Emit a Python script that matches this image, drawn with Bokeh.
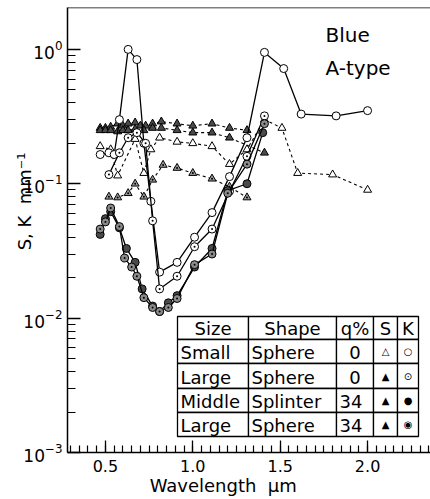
import numpy as np
from bokeh.plotting import figure
from bokeh.models import (Range1d, Label, BoxAnnotation, Span, FixedTicker,
                          CustomJSTickFormatter, LogTickFormatter)
from bokeh.embed import file_html
from bokeh.resources import INLINE

# ---------------- data ----------------
# K (absorption) series, circles, solid lines
k_small_x = [0.47, 0.52, 0.55, 0.58, 0.63, 0.68, 0.72, 0.76, 0.81, 0.91, 1.01, 1.11, 1.21, 1.31, 1.41, 1.52, 1.62, 1.82, 2.00]
k_small_y = [0.165, 0.17, 0.165, 0.30, 1.00, 0.84, 0.20, 0.074, 0.022, 0.026, 0.040, 0.061, 0.113, 0.22, 0.95, 0.72, 0.33, 0.32, 0.35]

k_large0_x = [0.52, 0.58, 0.63, 0.68, 0.73, 0.77, 0.81, 0.91, 1.01, 1.11, 1.21, 1.31, 1.41]
k_large0_y = [0.117, 0.17, 0.22, 0.24, 0.20, 0.053, 0.0165, 0.0205, 0.034, 0.046, 0.088, 0.16, 0.32]

k_splinter_x = [0.47, 0.50, 0.53, 0.58, 0.62, 0.67, 0.71, 0.77, 0.81, 0.86, 0.91, 1.01, 1.11, 1.20, 1.31, 1.40]
k_splinter_y = [0.042, 0.055, 0.062, 0.047, 0.033, 0.026, 0.0165, 0.0123, 0.0112, 0.013, 0.0147, 0.024, 0.033, 0.089, 0.10, 0.24]

k_large34_x = [0.47, 0.50, 0.53, 0.58, 0.61, 0.65, 0.68, 0.72, 0.77, 0.81, 0.86, 0.91, 1.01, 1.11, 1.20, 1.31, 1.41]
k_large34_y = [0.046, 0.052, 0.066, 0.048, 0.028, 0.024, 0.0205, 0.0142, 0.012, 0.0112, 0.012, 0.014, 0.025, 0.030, 0.085, 0.14, 0.28]

# S (scattering) series, triangles, dashed lines
s_small_x = [0.47, 0.53, 0.57, 0.67, 0.72, 0.76, 0.81, 0.91, 1.00, 1.11, 1.21, 1.31, 1.41, 1.51, 1.60, 1.80, 2.00]
s_small_y = [0.19, 0.18, 0.115, 0.215, 0.12, 0.18, 0.22, 0.205, 0.20, 0.19, 0.14, 0.18, 0.30, 0.26, 0.12, 0.117, 0.090]

s_large0_x = [0.47, 0.50, 0.53, 0.57, 0.60, 0.63, 0.67, 0.70, 0.73, 0.77, 0.82, 0.91, 1.00, 1.11, 1.21, 1.31]
s_large0_y = [0.26, 0.26, 0.265, 0.28, 0.27, 0.28, 0.285, 0.27, 0.27, 0.28, 0.29, 0.28, 0.27, 0.28, 0.26, 0.25]

s_splinter_x = [0.47, 0.50, 0.53, 0.57, 0.60, 0.63, 0.67, 0.72, 0.77, 0.82, 0.91, 1.00, 1.11, 1.21, 1.41]
s_splinter_y = [0.25, 0.25, 0.25, 0.245, 0.25, 0.25, 0.255, 0.25, 0.26, 0.26, 0.25, 0.24, 0.24, 0.22, 0.17]

s_large34_x = [0.52, 0.57, 0.63, 0.67, 0.72, 0.77, 0.83, 0.91, 1.00, 1.11, 1.21, 1.31]
s_large34_y = [0.080, 0.079, 0.085, 0.10, 0.080, 0.107, 0.138, 0.131, 0.12, 0.109, 0.095, 0.079]

x_major_ticks = [0.5, 1.0, 1.5, 2.0]
y_major_ticks = [1e-3, 1e-2, 1e-1, 1.0]

table_header = ["Size", "Shape", "q%", "S", "K"]
table_size = ["Small", "Large", "Middle", "Large"]
table_shape = ["Sphere", "Sphere", "Splinter", "Sphere"]
table_q = ["0", "0", "34", "34"]
table_s_sym = ["\u25b3", "\u25b2", "\u25b2", "\u25b2"]
table_k_sym = ["\u25cb", "\u2299", "\u25cf", "\u25c9"]

FONT = "DejaVu Sans"
NB = "\u00a0"
X0, X1 = 0.283, 2.36
Y0, Y1 = 1e-3, 2.05

p = figure(width=430, height=499, y_axis_type="log",
           x_range=Range1d(X0, X1), y_range=Range1d(Y0, Y1),
           output_backend="svg", toolbar_location=None,
           min_border_left=67, min_border_right=0, min_border_top=7, min_border_bottom=47)
p.outline_line_color = None
p.grid.visible = False
p.background_fill_color = "white"
p.border_fill_color = "white"

# x axis
minor_x = [round(v, 2) for v in np.arange(0.30, 2.351, 0.05)]
p.xaxis.ticker = FixedTicker(ticks=x_major_ticks, minor_ticks=minor_x)
p.xaxis.formatter = CustomJSTickFormatter(code="return tick.toFixed(1)")
p.xaxis.major_tick_in = 12
p.xaxis.major_tick_out = 0
p.xaxis.minor_tick_in = 7
p.xaxis.minor_tick_out = 0
p.xaxis.axis_line_width = 1.5
p.xaxis.major_tick_line_width = 1.3
p.xaxis.minor_tick_line_width = 1.2
p.xaxis.major_label_text_font = FONT
p.xaxis.major_label_text_font_size = "16px"
p.xaxis.major_label_text_color = "black"
p.xaxis.major_label_standoff = 7
p.xaxis.axis_label = "Wavelength" + NB * 2 + "\u03bcm" + NB * 9
p.xaxis.axis_label_text_font = FONT
p.xaxis.axis_label_text_font_size = "18px"
p.xaxis.axis_label_text_font_style = "normal"
p.xaxis.axis_label_text_color = "black"
p.xaxis.axis_label_standoff = 0

# y axis
minor_y = [k * 10.0 ** e for e in (-3, -2, -1) for k in range(2, 10)]
p.yaxis.ticker = FixedTicker(ticks=y_major_ticks, minor_ticks=minor_y)
p.yaxis.formatter = LogTickFormatter()
p.yaxis.major_tick_in = 13
p.yaxis.major_tick_out = 0
p.yaxis.minor_tick_in = 8
p.yaxis.minor_tick_out = 0
p.yaxis.axis_line_width = 1.5
p.yaxis.major_tick_line_width = 1.3
p.yaxis.minor_tick_line_width = 1.2
p.yaxis.major_label_text_font = FONT
p.yaxis.major_label_text_font_size = "17px"
p.yaxis.major_label_text_color = "black"
p.yaxis.major_label_standoff = 5
p.yaxis.axis_label = NB * 10 + "S," + NB + "K" + NB * 2 + "mm\u207b\u00b9"
p.yaxis.axis_label_text_font = FONT
p.yaxis.axis_label_text_font_size = "18px"
p.yaxis.axis_label_text_font_style = "normal"
p.yaxis.axis_label_text_color = "black"
p.yaxis.axis_label_standoff = -15

# top border
p.add_layout(Span(location=Y1, dimension="width", line_color="black", line_width=1.5))

# corner text
p.add_layout(Label(x=258, y=406, x_units="screen", y_units="screen", text="Blue",
                   text_font=FONT, text_font_size="20px", text_color="black"))
p.add_layout(Label(x=258, y=373, x_units="screen", y_units="screen", text="A-type",
                   text_font=FONT, text_font_size="20px", text_color="black"))

# ---------------- series ----------------
s_series = [
    (s_small_x, s_small_y, "triangle", "white"),
    (s_large0_x, s_large0_y, "triangle", "#4a4a4a"),
    (s_splinter_x, s_splinter_y, "triangle", "#4a4a4a"),
    (s_large34_x, s_large34_y, "triangle_dot", "#9a9a9a"),
]
for xs, ys, mk, fc in s_series:
    p.line(xs, ys, line_color="black", line_width=1.1, line_dash="3 3")
    p.scatter(xs, ys, marker=mk, size=8, fill_color=fc, line_color="black", line_width=1)

k_series = [
    (k_small_x, k_small_y, "circle", "white"),
    (k_large0_x, k_large0_y, "circle_dot", "white"),
    (k_splinter_x, k_splinter_y, "circle", "#4a4a4a"),
    (k_large34_x, k_large34_y, "circle_dot", "#8a8a8a"),
]
for xs, ys, mk, fc in k_series:
    p.line(xs, ys, line_color="black", line_width=1.3)
    p.scatter(xs, ys, marker=mk, size=8, fill_color=fc, line_color="black", line_width=1)

# ---------------- table legend (screen units, frame-relative) ----------------
col_edges = [110, 181, 269, 306, 330, 351]
row_edges = [136, 113, 89, 64, 40, 16]
for r in range(5):
    for c in range(5):
        p.add_layout(BoxAnnotation(left=col_edges[c], right=col_edges[c + 1],
                                   top=row_edges[r], bottom=row_edges[r + 1],
                                   left_units="screen", right_units="screen",
                                   top_units="screen", bottom_units="screen",
                                   fill_color="white", fill_alpha=1.0,
                                   line_color="black", line_width=1.3, line_alpha=1.0))

def cell_text(txt, c, r, align, size="18px", sym=False):
    if align == "center":
        x = (col_edges[c] + col_edges[c + 1]) / 2
    else:
        x = col_edges[c] + 3
    if sym:
        y = (row_edges[r] + row_edges[r + 1]) / 2
        base = "middle"
    else:
        y = row_edges[r + 1] + 11
        base = "alphabetic"
    p.add_layout(Label(x=x, y=y, x_units="screen", y_units="screen", text=txt,
                       text_align=align, text_baseline=base,
                       text_font=FONT, text_font_size=size, text_color="black"))

for c, h in enumerate(table_header):
    cell_text(h, c, 0, "center")
for i in range(4):
    r = i + 1
    cell_text(table_size[i], 0, r, "left")
    cell_text(table_shape[i], 1, r, "left")
    cell_text(table_q[i], 2, r, "center" if table_q[i] == "0" else "left")
    cell_text(table_s_sym[i], 3, r, "center", size="10px", sym=True)
    cell_text(table_k_sym[i], 4, r, "center", size="10px", sym=True)

open("out.html", "w").write(file_html(p, INLINE))
